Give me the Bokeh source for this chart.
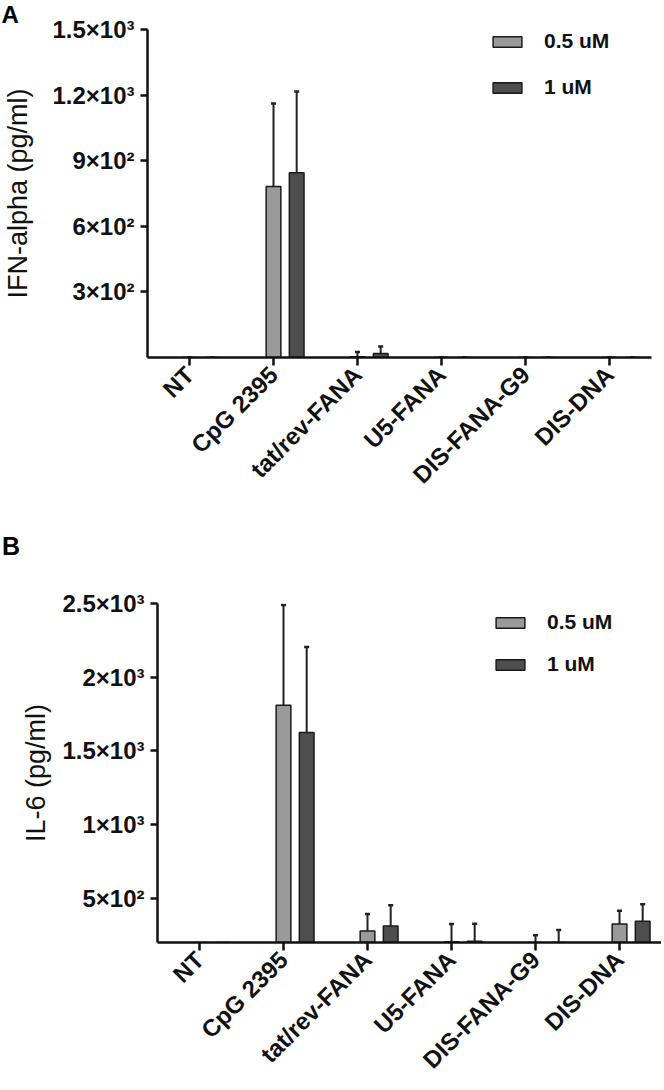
import math
from bokeh.plotting import figure
from bokeh.models import (FactorRange, Range1d, FixedTicker, Legend, LegendItem,
                          Title, ColumnDataSource, Div)
from bokeh.transform import dodge
from bokeh.embed import file_html
from bokeh.resources import INLINE

categories = ["NT", "CpG 2395", "tat/rev-FANA", "U5-FANA", "DIS-FANA-G9", "DIS-DNA"]
series = ["0.5 uM", "1 uM"]

ifn_05 = [0, 782, 3, 0, 0, 0]
ifn_05_err = [0, 380, 22, 0, 0, 0]
ifn_1 = [0, 845, 18, 0, 0, 0]
ifn_1_err = [0, 372, 32, 0, 0, 0]

il6_05 = [0, 1810, 278, 205, 140, 325]
il6_05_err = [0, 680, 115, 120, 110, 90]
il6_1 = [0, 1625, 312, 208, 140, 345]
il6_1_err = [0, 580, 140, 120, 145, 115]

ifn_ticks = [300, 600, 900, 1200, 1500]
ifn_tick_labels = ["3×10²", "6×10²", "9×10²", "1.2×10³", "1.5×10³"]
il6_ticks = [500, 1000, 1500, 2000, 2500]
il6_tick_labels = ["5×10²", "1×10³", "1.5×10³", "2×10³", "2.5×10³"]

FONT = "Liberation Sans"
LIGHT = "#9a9a9a"
DARK = "#4e4e4e"
OFFSET = 0.276
BAR_W = 0.175
CAP = 0.03


def make_panel(letter, ylabel, y0, y1, ticks, tick_labels, d05, e05, d1, e1,
               width, height, border_top, border_left, border_right, border_bottom,
               legend_x, legend_y, legend_spacing, label_standoff):
    p = figure(x_range=FactorRange(factors=categories, range_padding=0),
               y_range=Range1d(y0, y1), width=width, height=height,
               output_backend="svg", toolbar_location=None,
               min_border_top=border_top, min_border_left=border_left,
               min_border_right=border_right, min_border_bottom=border_bottom)
    p.outline_line_color = None
    p.xgrid.visible = False
    p.ygrid.visible = False

    if letter:
        p.title = Title(text=letter, align="left", offset=-border_left + 1,
                        standoff=0, vertical_align="top", text_line_height=0.85,
                        text_font=FONT, text_font_size="24px",
                        text_font_style="bold", text_color="#000000")

    renderers = []
    for vals, errs, off, col in ((d05, e05, 0.0, LIGHT), (d1, e1, OFFSET, DARK)):
        src = ColumnDataSource(dict(cat=categories, mean=vals,
                                    top=[v + e for v, e in zip(vals, errs)]))
        p.segment(x0=dodge("cat", off, range=p.x_range), y0="mean",
                  x1=dodge("cat", off, range=p.x_range), y1="top",
                  source=src, line_color="#222222", line_width=2)
        p.segment(x0=dodge("cat", off - CAP, range=p.x_range), y0="top",
                  x1=dodge("cat", off + CAP, range=p.x_range), y1="top",
                  source=src, line_color="#222222", line_width=2.5)
        r = p.vbar(x=dodge("cat", off, range=p.x_range), top="mean", bottom=0,
                   width=BAR_W, source=src, fill_color=col,
                   line_color="#1a1a1a", line_width=1.5)
        renderers.append(r)

    legend = Legend(items=[LegendItem(label=series[0], renderers=[renderers[0]]),
                           LegendItem(label=series[1], renderers=[renderers[1]])],
                    location=(legend_x, legend_y))
    legend.padding = 0
    legend.margin = 0
    legend.border_line_alpha = 0
    legend.background_fill_alpha = 0
    legend.glyph_width = 36
    legend.glyph_height = 13
    legend.label_standoff = 19
    legend.label_height = 20
    legend.spacing = legend_spacing
    legend.label_text_font = FONT
    legend.label_text_font_size = "21px"
    legend.label_text_font_style = "bold"
    legend.label_text_color = "#111111"
    p.add_layout(legend)

    yax = p.yaxis[0]
    yax.ticker = FixedTicker(ticks=ticks)
    yax.major_label_overrides = {t: l for t, l in zip(ticks, tick_labels)}
    yax.axis_label = ylabel
    yax.axis_label_text_font = FONT
    yax.axis_label_text_font_size = "27px"
    yax.axis_label_text_font_style = "normal"
    yax.axis_label_text_color = "#111111"
    yax.axis_label_standoff = label_standoff
    yax.major_label_text_font = FONT
    yax.major_label_text_font_size = "24px"
    yax.major_label_text_font_style = "bold"
    yax.major_label_text_color = "#111111"
    yax.major_label_standoff = 6
    yax.minor_tick_line_color = None
    yax.major_tick_in = 0
    yax.major_tick_out = 7
    yax.major_tick_line_width = 2.5
    yax.axis_line_width = 2.5
    yax.major_tick_line_color = "#111111"
    yax.axis_line_color = "#111111"

    xax = p.xaxis[0]
    xax.major_label_orientation = math.pi / 4
    xax.major_label_text_font = FONT
    xax.major_label_text_font_size = "24px"
    xax.major_label_text_font_style = "bold"
    xax.major_label_text_color = "#111111"
    xax.major_label_standoff = 5
    xax.major_tick_in = 0
    xax.major_tick_out = 8
    xax.major_tick_line_width = 2.5
    xax.axis_line_width = 2.5
    xax.major_tick_line_color = "#111111"
    xax.axis_line_color = "#111111"
    return p


pa = make_panel("A", "IFN-alpha (pg/ml)", 0, 1500, ifn_ticks, ifn_tick_labels,
                ifn_05, ifn_05_err, ifn_1, ifn_1_err,
                width=656, height=536, border_top=22, border_left=147,
                border_right=5, border_bottom=179,
                legend_x=342, legend_y=258, legend_spacing=22, label_standoff=16)

letter_b = Div(text="B", width=40, height=20, margin=0,
               styles={"font-family": FONT, "font-size": "25px",
                       "font-weight": "bold", "line-height": "20px",
                       "color": "#000000", "padding-left": "2px"})

pb = make_panel(None, "IL-6 (pg/ml)", 200, 2500, il6_ticks, il6_tick_labels,
                il6_05, il6_05_err, il6_1, il6_1_err,
                width=661, height=532, border_top=47, border_left=157,
                border_right=0, border_bottom=146,
                legend_x=335, legend_y=266, legend_spacing=18, label_standoff=8)

open("out.html", "w").write(file_html([pa, letter_b, pb], INLINE))
